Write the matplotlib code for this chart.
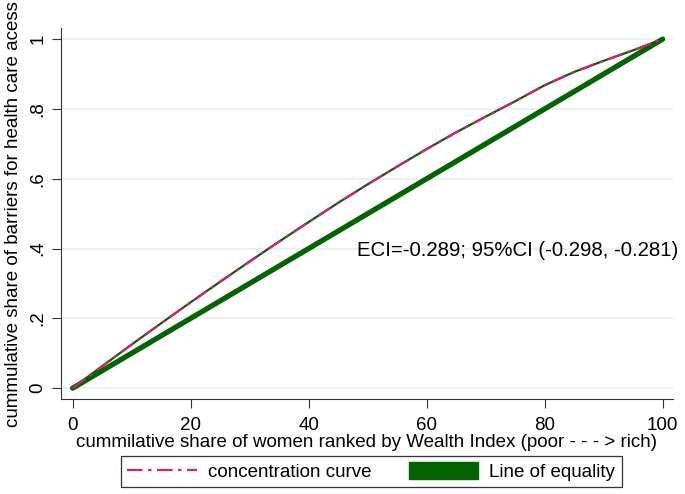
import matplotlib
matplotlib.use("Agg")
import matplotlib.pyplot as plt
from matplotlib.patches import Patch
from matplotlib.lines import Line2D

plt.rcParams['font.family'] = ['Liberation Sans', 'DejaVu Sans']

# Data
pop_share = [0, 5, 10, 15, 20, 25, 30, 35, 40, 45, 50, 55, 60, 65, 70, 75, 80, 85, 90, 95, 100]
conc_curve = [0, 0.063, 0.125, 0.186, 0.246, 0.305, 0.363, 0.420, 0.476, 0.531, 0.584,
              0.635, 0.685, 0.733, 0.778, 0.822, 0.868, 0.906, 0.938, 0.968, 1.0]
equality_x = [0, 100]
equality_y = [0, 1]
x_ticks = [0, 20, 40, 60, 80, 100]
y_ticks = [0, 0.2, 0.4, 0.6, 0.8, 1.0]
y_tick_labels = ['0', '.2', '.4', '.6', '.8', '1']
annotation = "ECI=-0.289; 95%CI (-0.298, -0.281)"

pink = '#d6216e'
green = '#006400'
fs = 13.5

fig = plt.figure(figsize=(6.85, 4.94), dpi=100)
ax = fig.add_axes([0.089, 0.192, 0.893, 0.751])

dash = (0, (7, 2.5, 1.5, 2.5))
ax.plot(pop_share, conc_curve, color=green, lw=1.6, zorder=3)
ax.plot(pop_share, conc_curve, color=pink, lw=1.6, ls=dash, zorder=4)
ax.plot(equality_x, equality_y, color=green, lw=3.8, zorder=2, solid_capstyle='round')

ax.set_xlim(-1.98, 101.7)
ax.set_ylim(-0.0315, 1.0315)
ax.set_xticks(x_ticks)
ax.set_yticks(y_ticks)
ax.set_yticklabels(y_tick_labels, rotation=90, va='center')
ax.tick_params(axis='both', labelsize=fs, length=6.5, width=0.8, color='#333333', pad=4)
ax.tick_params(axis='x', pad=6)
ax.grid(axis='y', color='#e6edf1', lw=1.2)
ax.set_axisbelow(True)
for s in ['top', 'right']:
    ax.spines[s].set_visible(False)
for s in ['left', 'bottom']:
    ax.spines[s].set_color('#333333')

ax.set_xlabel('cummilative share of women ranked by Wealth Index (poor - - - > rich)', fontsize=fs, labelpad=0)
ax.set_ylabel('cummulative share of barriers for health care acess', fontsize=fs, labelpad=5)

ax.text(48.2, 0.395, annotation, fontsize=14.7, ha='left', va='center', clip_on=False)

handles = [Line2D([0], [0], color=pink, lw=1.6, ls=dash),
           Patch(facecolor=green, edgecolor=green)]
leg = fig.legend(handles, ['concentration curve', 'Line of equality'], loc='center',
                 bbox_to_anchor=(0.542, 0.0455), ncol=2, fontsize=fs, frameon=True,
                 fancybox=False, edgecolor='black', handlelength=3.7, handleheight=1.0,
                 columnspacing=2.0, borderpad=0.35, handletextpad=0.6)
leg.get_frame().set_linewidth(0.9)

fig.savefig('out.png', dpi=100)
